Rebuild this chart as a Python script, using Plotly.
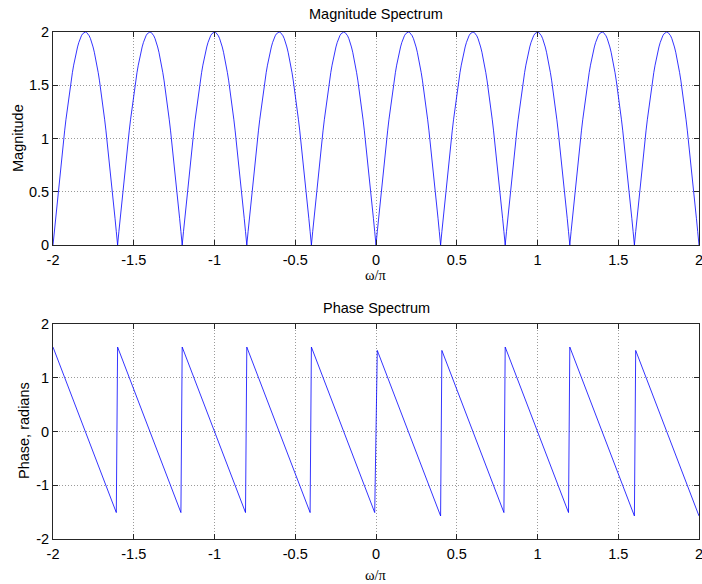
import numpy as np
import plotly.graph_objects as go

# FIR filter coefficients h[n] = delta[n] - delta[n-5]
b_coeffs = [1, 0, 0, 0, 0, -1]
n_freq = 501
x_ticks = [-2, -1.5, -1, -0.5, 0, 0.5, 1, 1.5, 2]
x_tick_text = ["-2", "-1.5", "-1", "-0.5", "0", "0.5", "1", "1.5", "2"]
mag_ticks = [0, 0.5, 1, 1.5, 2]
mag_tick_text = ["0", "0.5", "1", "1.5", "2"]
phase_ticks = [-2, -1, 0, 1, 2]
phase_tick_text = ["-2", "-1", "0", "1", "2"]

w_over_pi = np.linspace(-2, 2, n_freq)
w = w_over_pi * np.pi
H = sum(c * np.exp(-1j * k * w) for k, c in enumerate(b_coeffs))
mag = np.abs(H)
phase = np.angle(H)

blue = "#0000ff"
fig = go.Figure()
fig.add_trace(go.Scatter(x=w_over_pi, y=mag, mode="lines",
                         line=dict(color=blue, width=0.8), xaxis="x", yaxis="y",
                         showlegend=False, hoverinfo="skip"))
fig.add_trace(go.Scatter(x=w_over_pi, y=phase, mode="lines",
                         line=dict(color=blue, width=0.8), xaxis="x2", yaxis="y2",
                         showlegend=False, hoverinfo="skip"))

W, Hh = 702, 584
x0, x1 = 53 / W, 699 / W
top_dom = [1 - 245 / Hh, 1 - 32 / Hh]
bot_dom = [1 - 539 / Hh, 1 - 324 / Hh]

FS = 14.5
tick_font = dict(family="Liberation Sans, Arial", size=FS, color="black")
axis_common = dict(showline=True, linecolor="#262626", linewidth=1, mirror="ticks",
                   ticks="inside", ticklen=5, tickcolor="#262626", tickwidth=1,
                   showgrid=True, gridcolor="#9a9a9a", griddash="1px,2px", gridwidth=1,
                   zeroline=False, tickfont=tick_font, automargin=False,
                   ticklabeloverflow="allow")

fig.update_layout(
    width=W, height=Hh, margin=dict(l=0, r=0, t=0, b=0, autoexpand=False),
    paper_bgcolor="white", plot_bgcolor="white",
    xaxis=dict(domain=[x0, x1], range=[-2, 2], tickvals=x_ticks, ticktext=x_tick_text,
               anchor="y", ticklabelstandoff=2, **axis_common),
    yaxis=dict(domain=top_dom, range=[0, 2], tickvals=mag_ticks, ticktext=mag_tick_text,
               anchor="x", **axis_common),
    xaxis2=dict(domain=[x0, x1], range=[-2, 2], tickvals=x_ticks, ticktext=x_tick_text,
                anchor="y2", ticklabelstandoff=2, **axis_common),
    yaxis2=dict(domain=bot_dom, range=[-2, 2], tickvals=phase_ticks, ticktext=phase_tick_text,
                anchor="x2", **axis_common),
)

title_font = dict(family="Liberation Sans, Arial", size=FS, color="black")
serif_font = dict(family="Liberation Serif, Times New Roman", size=FS, color="black")
xc = (53 + 699) / 2 / W
ann = [
    dict(text="Magnitude Spectrum", x=xc, y=1 - 14 / Hh, font=title_font),
    dict(text="Phase Spectrum", x=xc, y=1 - 308 / Hh, font=title_font),
    dict(text="ω/π", x=xc, y=1 - 275 / Hh, font=serif_font),
    dict(text="ω/π", x=xc, y=1 - 575 / Hh, font=serif_font),
    dict(text="Magnitude", x=18 / W, y=1 - 138 / Hh, font=title_font, textangle=-90),
    dict(text="Phase, radians", x=24 / W, y=1 - 431 / Hh, font=title_font, textangle=-90),
]
for a in ann:
    fig.add_annotation(xref="paper", yref="paper", showarrow=False,
                       xanchor="center", yanchor="middle", **a)

fig.write_html("out.html", config={"displayModeBar": False},
               post_script="document.body.style.margin='0';document.body.style.overflow='hidden';")
